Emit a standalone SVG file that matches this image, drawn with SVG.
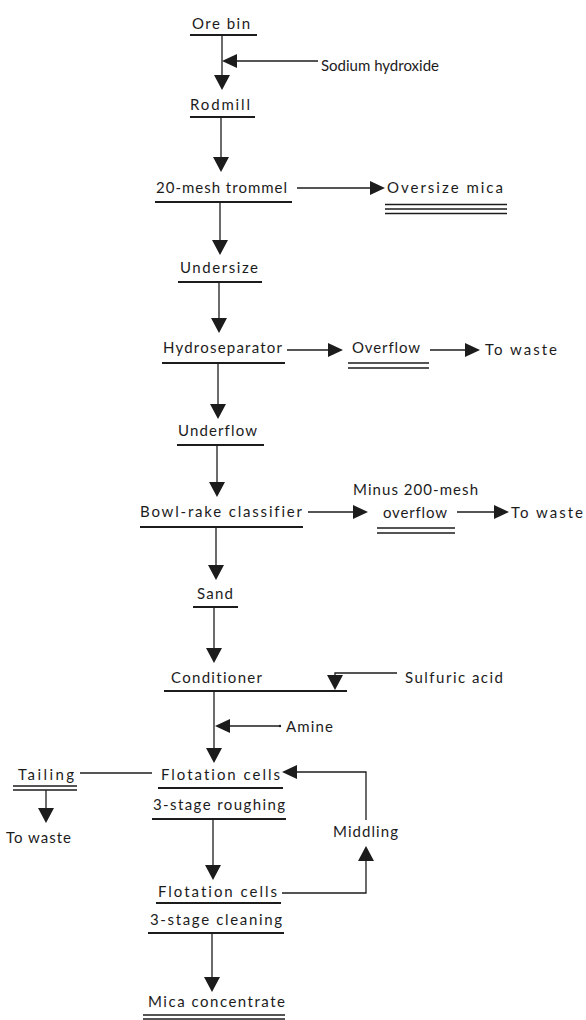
<svg xmlns="http://www.w3.org/2000/svg" xmlns:xlink="http://www.w3.org/1999/xlink" width="586" height="1020" viewBox="0 0 586 1020">
<style>
text{font-family:Lato,"Open Sans","DejaVu Sans",sans-serif;font-size:15px;fill:#1c1c1c;font-variant-ligatures:none;font-feature-settings:"liga" 0,"clig" 0;}
.ul{stroke:#1c1c1c;stroke-width:2;fill:none;}
.dl{stroke:#1c1c1c;stroke-width:1.6;fill:none;}
.cn{stroke:#1c1c1c;stroke-width:1.3;fill:none;}
.ah{fill:#1c1c1c;}
</style>
<defs>
<path id="ad" class="ah" d="M-8,-15 L8,-15 L0,0 Z"/>
<path id="au" class="ah" d="M-8,15 L8,15 L0,0 Z"/>
<path id="ar" class="ah" d="M-15,-7 L-15,7 L0,0 Z"/>
<path id="al" class="ah" d="M15,-7 L15,7 L0,0 Z"/>
</defs>
<rect width="586" height="1020" fill="#ffffff"/>
<g id="connectors">
<path class="cn" d="M222,35 V80"/><use href="#ad" x="222" y="90"/>
<path class="cn" d="M318,61 H232"/><use href="#al" x="222" y="61"/>
<path class="cn" d="M221,117 V162"/><use href="#ad" x="221" y="172"/>
<path class="cn" d="M297,188 H375"/><use href="#ar" x="385" y="188"/>
<path class="cn" d="M220,202 V245"/><use href="#ad" x="220" y="255"/>
<path class="cn" d="M219,282 V323"/><use href="#ad" x="219" y="333"/>
<path class="cn" d="M287,350 H333"/><use href="#ar" x="343" y="350"/>
<path class="cn" d="M430,350 H470"/><use href="#ar" x="480" y="350"/>
<path class="cn" d="M218,363 V409"/><use href="#ad" x="218" y="419"/>
<path class="cn" d="M217,444 V487"/><use href="#ad" x="217" y="497"/>
<path class="cn" d="M308,512 H358"/><use href="#ar" x="368" y="512"/>
<path class="cn" d="M457,512 H499"/><use href="#ar" x="509" y="512"/>
<path class="cn" d="M216,527 V570"/><use href="#ad" x="216" y="580"/>
<path class="cn" d="M214,607 V653"/><use href="#ad" x="214" y="663"/>
<path class="cn" d="M397,673 H335 V681"/><use href="#ad" x="335" y="690"/>
<path class="cn" d="M214,691 V753"/><use href="#ad" x="214" y="763"/>
<path class="cn" d="M280,726 H225"/><use href="#al" x="215" y="726"/><circle class="ah" cx="280" cy="726" r="1.2"/>
<path class="cn" d="M80,773 H152"/>
<path class="cn" d="M46,790 V813"/><use href="#ad" x="46" y="823"/>
<path class="cn" d="M366,820 V772 H292"/><use href="#al" x="282" y="772"/>
<path class="cn" d="M282,893 H366 V856"/><use href="#au" x="366" y="846"/>
<path class="cn" d="M213,819 V870"/><use href="#ad" x="213" y="880"/>
<path class="cn" d="M212,933 V982"/><use href="#ad" x="212" y="992"/>
</g>
<g id="ore-bin"><text x="192" y="29" textLength="58" lengthAdjust="spacing">Ore bin</text><path class="ul" d="M190,35 H257"/></g>
<g id="sodium-hydroxide"><text x="321" y="71" textLength="118" lengthAdjust="spacing">Sodium hydroxide</text></g>
<g id="rodmill"><text x="190" y="110" textLength="60" lengthAdjust="spacing">Rodmill</text><path class="ul" d="M190,117 H255"/></g>
<g id="trommel"><text x="156" y="193" textLength="131" lengthAdjust="spacing">20-mesh trommel</text><path class="ul" d="M155,202 H292"/></g>
<g id="oversize-mica"><text x="387" y="193" textLength="116" lengthAdjust="spacing">Oversize mica</text><path class="dl" d="M385,204.5 H507 M385,209 H507 M385,213.5 H507"/></g>
<g id="undersize"><text x="180" y="273" textLength="78" lengthAdjust="spacing">Undersize</text><path class="ul" d="M178,282 H262"/></g>
<g id="hydroseparator"><text x="163" y="353" textLength="119" lengthAdjust="spacing">Hydroseparator</text><path class="ul" d="M162,363 H285"/></g>
<g id="overflow-1"><text x="352" y="353" textLength="68" lengthAdjust="spacing">Overflow</text><path class="dl" d="M348,363 H429 M348,368 H429"/></g>
<g id="to-waste-1"><text x="485" y="355" textLength="72" lengthAdjust="spacing">To waste</text></g>
<g id="underflow"><text x="178" y="436" textLength="79" lengthAdjust="spacing">Underflow</text><path class="ul" d="M177,445 H264"/></g>
<g id="bowl-rake"><text x="140" y="517" textLength="162" lengthAdjust="spacing">Bowl-rake classifier</text><path class="ul" d="M140,527 H303"/></g>
<g id="minus-200"><text x="353" y="495" textLength="125" lengthAdjust="spacing">Minus 200-mesh</text><text x="383" y="518" textLength="64" lengthAdjust="spacing">overflow</text><path class="dl" d="M377,528 H455 M377,533 H455"/></g>
<g id="to-waste-2"><text x="511" y="518" textLength="72" lengthAdjust="spacing">To waste</text></g>
<g id="sand"><text x="197" y="599" textLength="36" lengthAdjust="spacing">Sand</text><path class="ul" d="M193,607 H238"/></g>
<g id="conditioner"><text x="171" y="683" textLength="91" lengthAdjust="spacing">Conditioner</text><path class="ul" d="M164,691 H347"/></g>
<g id="sulfuric-acid"><text x="405" y="683" textLength="98" lengthAdjust="spacing">Sulfuric acid</text></g>
<g id="amine"><text x="286" y="732" textLength="47" lengthAdjust="spacing">Amine</text></g>
<g id="tailing"><text x="18" y="780" textLength="56" lengthAdjust="spacing">Tailing</text><path class="dl" d="M13,786 H77 M13,790 H77"/></g>
<g id="to-waste-3"><text x="6" y="843" textLength="65" lengthAdjust="spacing">To waste</text></g>
<g id="roughing"><text x="161" y="780" textLength="119" lengthAdjust="spacing">Flotation cells</text><path class="ul" d="M158,788 H283"/><text x="153" y="810" textLength="132" lengthAdjust="spacing">3-stage roughing</text><path class="ul" d="M152,819 H286"/></g>
<g id="middling"><text x="333" y="837" textLength="65" lengthAdjust="spacing">Middling</text></g>
<g id="cleaning"><text x="158" y="897" textLength="119" lengthAdjust="spacing">Flotation cells</text><path class="ul" d="M156,903 H281"/><text x="150" y="925" textLength="132" lengthAdjust="spacing">3-stage cleaning</text><path class="ul" d="M148,933 H284"/></g>
<g id="mica-concentrate"><text x="148" y="1007" textLength="137" lengthAdjust="spacing">Mica concentrate</text><path class="dl" d="M143,1015 H285 M143,1019 H285"/></g>
</svg>
